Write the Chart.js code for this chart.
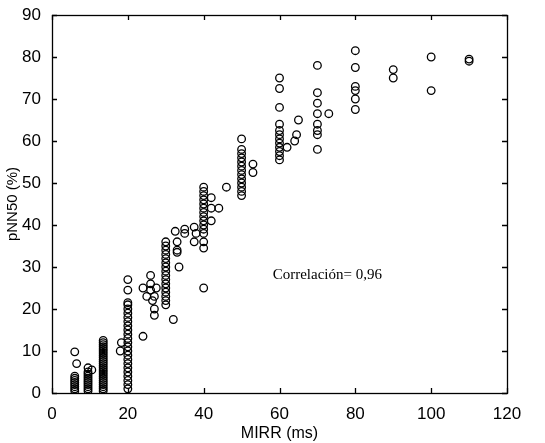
<!DOCTYPE html>
<html>
<head>
<meta charset="utf-8">
<script src="https://cdn.jsdelivr.net/npm/chart.js@4/dist/chart.umd.min.js"></script>
<style>
  html, body { margin: 0; padding: 0; background: #fff; }
  #wrap { width: 545px; height: 443px; }
</style>
</head>
<body>
<div id="wrap"><canvas id="chart" width="545" height="443"></canvas></div>
<script>
// MIRR (ms) for each recording, one line per column of points
const mirr = [
  6, 6, 6, 6, 6, 6, 6, 6, 6, 6.5,
  9.5, 9.5, 9.5, 9.5, 9.5, 9.5, 9.5, 9.5, 9.5, 9.5, 9.5, 10.5,
  13.5, 13.5, 13.5, 13.5, 13.5, 13.5, 13.5, 13.5, 13.5, 13.5, 13.5, 13.5, 13.5, 13.5, 13.5, 13.5, 13.5, 13.5, 13.5, 13.5, 13.5, 13.5, 13.5, 13.5, 13.5,
  18, 18.3,
  20, 20, 20, 20, 20, 20, 20, 20, 20, 20, 20, 20, 20, 20, 20, 20, 20, 20, 20, 20, 20, 20, 20, 20,
  24, 24, 25, 26, 26, 26, 26.5, 27, 27, 27, 27.5,
  30, 30, 30, 30, 30, 30, 30, 30, 30, 30, 30, 30, 30, 30, 30, 30,
  32, 32.5, 33, 33, 33, 33.5, 35, 35, 37.5, 37.5, 38,
  40, 40, 40, 40, 40, 40, 40, 40, 40, 40, 40, 40, 40, 40, 40,
  42, 42, 42, 44, 46,
  50, 50, 50, 50, 50, 50, 50, 50, 50, 50, 50, 50, 50, 53, 53,
  60, 60, 60, 60, 60, 60, 60, 60, 60, 60, 60, 60,
  62, 64, 64.5, 65,
  70, 70, 70, 70, 70, 70, 70, 70, 73,
  80, 80, 80, 80, 80, 80,
  90, 90, 100, 100, 110, 110
];

// pNN50 (%) for the same recordings
const pnn50 = [
  0.5, 1, 1.5, 2, 2.5, 3, 3.5, 4, 9.8, 7,
  0.5, 1, 1.5, 2, 2.5, 3, 3.5, 4, 4.5, 5, 6, 5.5,
  0.5, 1, 1.5, 2, 2.5, 3, 3.5, 4, 4.5, 5, 5.5, 6, 6.5, 7, 7.5, 8, 8.5, 9, 9.5, 10, 10.5, 11, 11.5, 12, 12.5,
  10, 12,
  1, 2, 3, 4, 5, 6, 7, 8, 9, 10, 11, 12, 13, 14, 15, 16, 17, 18, 19, 20, 21, 21.5, 24.5, 27,
  13.5, 25, 23, 28, 24.5, 26, 22, 18.5, 20, 23, 25,
  21, 22, 23, 24, 25, 26, 27, 28, 29, 30, 31, 32, 33, 34, 35, 36,
  17.5, 38.5, 34, 33.5, 36, 30, 39, 38, 36, 39.5, 38,
  25, 34.5, 36, 38, 39, 40, 41, 42, 43, 44, 45, 46, 47, 48, 49,
  41, 44, 46.5, 44, 49,
  47, 48, 49, 50, 51, 52, 53, 54, 55, 56, 57, 58, 60.5, 52.5, 54.5,
  55.5, 56.5, 57.5, 58.5, 59.5, 60.5, 61.5, 62.5, 64, 68, 72.5, 75,
  58.5, 60, 61.5, 65,
  58, 61.5, 62.5, 64, 66.5, 69, 71.5, 78, 66.5,
  67.5, 70, 72, 73, 77.5, 81.5,
  75, 77, 72, 80, 79, 79.5
];

const xTicks = [0, 20, 40, 60, 80, 100, 120];
const yTicks = [0, 10, 20, 30, 40, 50, 60, 70, 80, 90];
const noteText = 'Correlación= 0,96';

const points = mirr.map((x, i) => ({ x: x, y: pnn50[i] }));

// frame with inward ticks on all four sides, plus the correlation note
const framePlugin = {
  id: 'frame',
  afterDraw(chart) {
    const ctx = chart.ctx;
    const a = chart.chartArea;
    const xs = chart.scales.x, ys = chart.scales.y;
    const tl = 5;
    ctx.save();
    ctx.strokeStyle = '#000';
    ctx.lineWidth = 1.3;
    ctx.strokeRect(Math.round(a.left) + 0.5, Math.round(a.top) + 0.5,
      Math.round(a.right - a.left), Math.round(a.bottom - a.top));
    ctx.beginPath();
    xTicks.forEach(v => {
      const px = Math.round(xs.getPixelForValue(v)) + 0.5;
      ctx.moveTo(px, a.bottom); ctx.lineTo(px, a.bottom - tl);
      ctx.moveTo(px, a.top); ctx.lineTo(px, a.top + tl);
    });
    yTicks.forEach(v => {
      const py = Math.round(ys.getPixelForValue(v)) + 0.5;
      ctx.moveTo(a.left, py); ctx.lineTo(a.left + tl, py);
      ctx.moveTo(a.right, py); ctx.lineTo(a.right - tl, py);
    });
    ctx.stroke();
    ctx.fillStyle = '#000';
    ctx.font = '15px "Liberation Serif", "DejaVu Serif", serif';
    ctx.textBaseline = 'middle';
    ctx.fillText(noteText, xs.getPixelForValue(58.2), ys.getPixelForValue(28));
    ctx.restore();
  }
};

new Chart(document.getElementById('chart').getContext('2d'), {
  type: 'scatter',
  data: {
    datasets: [{
      data: points,
      pointStyle: 'circle',
      pointRadius: 3.8,
      pointBorderWidth: 1.3,
      pointBorderColor: '#000',
      pointBackgroundColor: 'rgba(0,0,0,0)'
    }]
  },
  options: {
    responsive: false,
    animation: false,
    layout: { padding: { top: 15, right: 38, left: 0, bottom: 0 } },
    plugins: { legend: { display: false }, tooltip: { enabled: false } },
    scales: {
      x: {
        type: 'linear',
        min: 0, max: 120,
        afterBuildTicks: s => { s.ticks = xTicks.map(v => ({ value: v })); },
        afterFit: s => { s.height = 50; },
        grid: { display: false },
        border: { display: false },
        ticks: { color: '#000', padding: 3, font: { family: 'Liberation Sans, Arial, sans-serif', size: 17 } },
        title: { display: true, text: 'MIRR (ms)', color: '#000', padding: { top: 0, bottom: 0 },
          font: { family: 'Liberation Sans, Arial, sans-serif', size: 16 } }
      },
      y: {
        type: 'linear',
        min: 0, max: 90,
        afterBuildTicks: s => { s.ticks = yTicks.map(v => ({ value: v })); },
        afterFit: s => { s.width = 52; },
        grid: { display: false },
        border: { display: false },
        ticks: { color: '#000', padding: 3, font: { family: 'Liberation Sans, Arial, sans-serif', size: 17 } },
        title: { display: true, text: 'pNN50 (%)', color: '#000', padding: { top: 4, bottom: 0 },
          font: { family: 'Liberation Sans, Arial, sans-serif', size: 15 } }
      }
    }
  },
  plugins: [framePlugin]
});
</script>
</body>
</html>
